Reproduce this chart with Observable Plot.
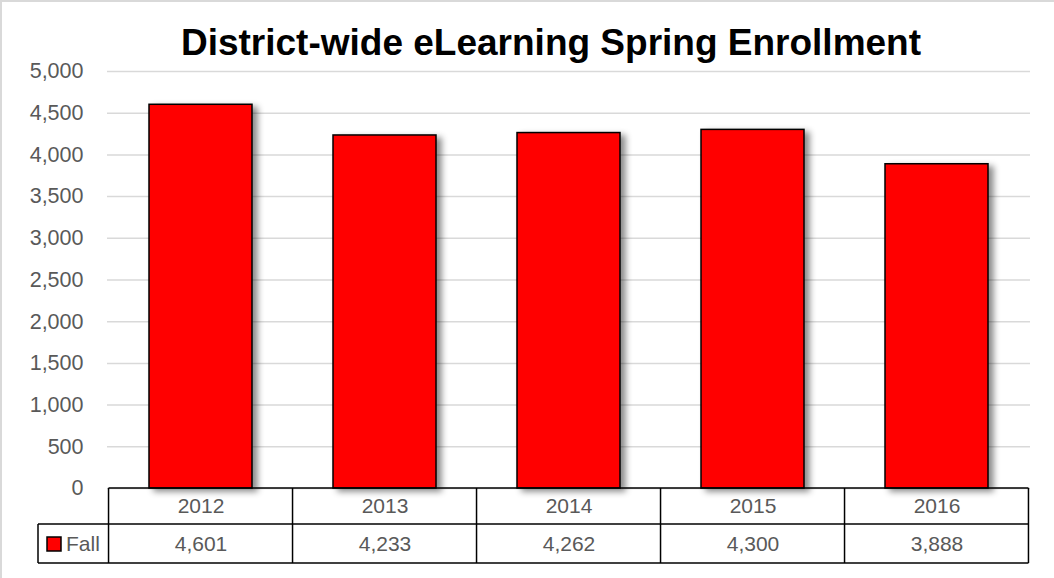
<!DOCTYPE html>
<html><head><meta charset="utf-8">
<script src="https://cdn.jsdelivr.net/npm/d3@7"></script>
<script src="https://cdn.jsdelivr.net/npm/@observablehq/plot@0.6"></script>
<style>
html,body{margin:0;padding:0;background:#fff;}
#wrap{position:relative;width:1054px;height:578px;overflow:hidden;}
#frame{position:absolute;left:0;top:0;width:1054px;height:578px;border-top:2px solid #d9d9d9;border-left:2px solid #d9d9d9;pointer-events:none;}
</style>
</head><body>
<div id="wrap"><div id="frame"></div></div>
<script>
const title = "District-wide eLearning Spring Enrollment";
const years = ["2012", "2013", "2014", "2015", "2016"];
const fall = [4601, 4233, 4262, 4300, 3888];
const seriesName = "Fall";
const yTicks = [0, 500, 1000, 1500, 2000, 2500, 3000, 3500, 4000, 4500, 5000];

const data = years.map((y, i) => ({year: y, value: fall[i]}));
const fmt = d3.format(",");
const font = "'Liberation Sans', Arial, sans-serif";

const plot = Plot.plot({
  width: 1054, height: 578,
  marginTop: 71, marginBottom: 90, marginLeft: 107, marginRight: 24,
  style: {fontFamily: font, fontSize: "21px", color: "#595959", background: "transparent", overflow: "visible"},
  x: {domain: years, paddingInner: 0.44, paddingOuter: 0.22, axis: null},
  y: {domain: [0, 5000], axis: null},
  marks: [
    Plot.gridY(yTicks, {stroke: "#d9d9d9", strokeOpacity: 1, strokeWidth: 1.5}),
    Plot.axisY(yTicks, {tickSize: 0, tickPadding: 24, tickFormat: fmt, fill: "#595959", fontSize: 21.5, label: null}),
    Plot.barY(data, {x: "year", y: "value", fill: "#ff0000", stroke: "#000", strokeWidth: 1.5}),
    Plot.text(data, {x: "year", y: () => 0, text: "year", dy: 18, fill: "#595959", fontSize: 21}),
    Plot.text(data, {x: "year", y: () => 0, text: d => fmt(d.value), dy: 56, fill: "#595959", fontSize: 21}),
    Plot.text([title], {frameAnchor: "top", dx: -18, dy: -17, lineAnchor: "bottom", fontSize: 37, fontWeight: "bold", fill: "#000"})
  ]
});

document.getElementById("wrap").prepend(plot);

// bar shadow
const barG = plot.querySelector("g[aria-label='bar']");
if (barG) barG.style.filter = "drop-shadow(5px 3px 3px rgba(0,0,0,0.45))";

// data table grid
const x = plot.scale("x");
const y = plot.scale("y");
const bw = x.bandwidth;
const step = bw / (1 - 0.44);
const y0 = y.apply(0);
const r1 = y0 + 36, r2 = y0 + 75;
const svg = d3.select(plot);
const g = svg.append("g").attr("stroke", "#000").attr("stroke-width", 1.5).attr("fill", "none");
const left = x.apply(years[0]) - (step - bw) / 2;
const right = x.apply(years[years.length - 1]) + bw + (step - bw) / 2;
const legL = 38;
g.append("line").attr("x1", left).attr("x2", right).attr("y1", y0).attr("y2", y0);
g.append("line").attr("x1", legL).attr("x2", right).attr("y1", r1).attr("y2", r1);
g.append("line").attr("x1", legL).attr("x2", right).attr("y1", r2).attr("y2", r2);
g.append("line").attr("x1", legL).attr("x2", legL).attr("y1", r1).attr("y2", r2);
years.forEach((yr, i) => {
  const xl = x.apply(yr) - (step - bw) / 2;
  g.append("line").attr("x1", xl).attr("x2", xl).attr("y1", y0).attr("y2", r2);
});
g.append("line").attr("x1", right).attr("x2", right).attr("y1", y0).attr("y2", r2);

// legend key
svg.append("rect").attr("x", 47).attr("y", 537).attr("width", 14).attr("height", 14)
  .attr("fill", "#ff0000").attr("stroke", "#000").attr("stroke-width", 1.5);
svg.append("text").attr("x", 66).attr("y", (r1 + r2) / 2).attr("dy", "0.35em")
  .attr("text-anchor", "start")
  .attr("fill", "#595959").attr("font-size", 21).attr("font-family", font).text(seriesName);
</script>
</body></html>
